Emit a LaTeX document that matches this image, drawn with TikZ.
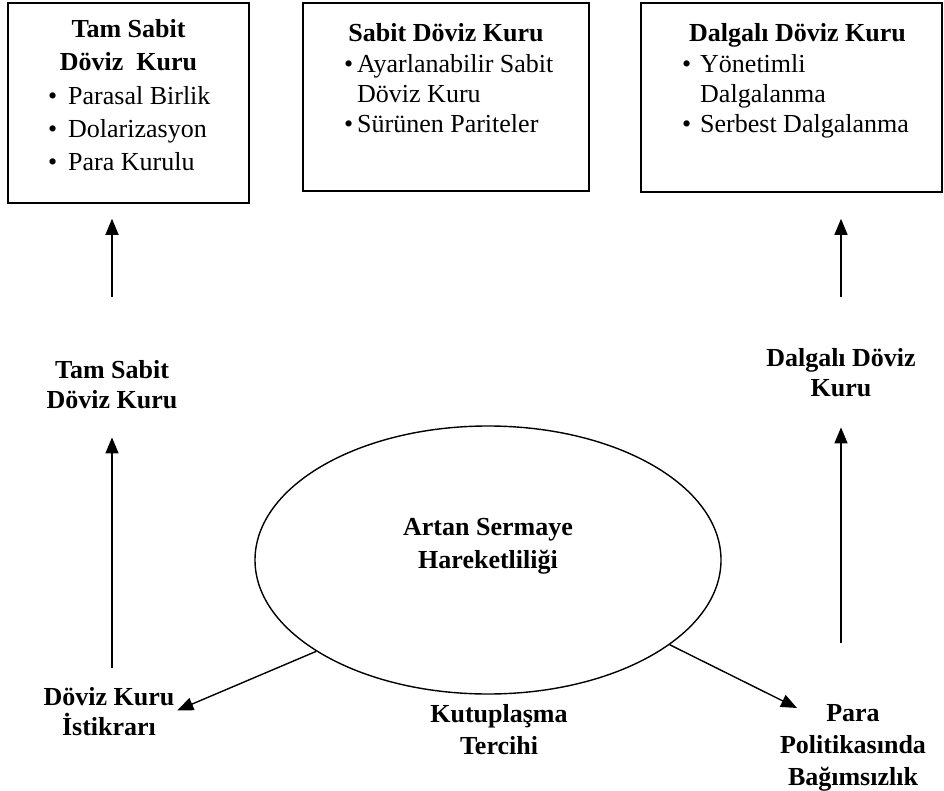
\documentclass[tikz,border=0pt]{standalone}
\usepackage{fontspec}
\setmainfont{Liberation Serif}
\usetikzlibrary{shapes.geometric,arrows.meta}

\newcommand{\madde}[1]{\makebox[#1][l]{\textbullet}}

\tikzset{
  kutu/.style={draw, line width=1.6pt, inner sep=0pt},
  baslik/.style={font=\fontsize{26}{#1}\selectfont\bfseries, align=center, inner sep=0pt, anchor=north},
  liste/.style={font=\fontsize{26}{#1}\selectfont, align=left, inner sep=0pt, anchor=north west},
  etiket/.style={font=\fontsize{26}{#1}\selectfont\bfseries, align=center, inner sep=0pt},
  ok/.style={line width=1.4pt, -{Triangle[length=16pt,width=13pt]}},
}

\begin{document}
\begin{tikzpicture}[x=1pt, y=-1pt]
  \useasboundingbox (0,0) rectangle (944,791);

  % kutular
  \node[kutu, minimum width=241pt, minimum height=200pt] (tamkutu) at (128.5,103) {};
  \node[baslik=33] (tambaslik) at (128.5,13.9) {\strut Tam Sabit\\Döviz\ \ Kuru};
  \node[liste=33] (tamliste) at (48,80.9) {\strut\madde{20pt}Parasal Birlik\\\madde{20pt}Dolarizasyon\\\madde{20pt}Para Kurulu};

  \node[kutu, minimum width=286pt, minimum height=188pt] (sabitkutu) at (446,97) {};
  \node[baslik=30] (sabitbaslik) at (446,20) {\strut Sabit Döviz Kuru};
  \node[liste=30] (sabitliste) at (344,51) {\strut\madde{13pt}Ayarlanabilir Sabit\\\hspace*{13pt}Döviz Kuru\\\madde{13pt}Sürünen Pariteler};

  \node[kutu, minimum width=301pt, minimum height=189pt] (dalgkutu) at (791.5,97.5) {};
  \node[baslik=30] (dalgbaslik) at (797.5,20) {\strut Dalgalı Döviz Kuru};
  \node[liste=30] (dalgliste) at (682,51) {\strut\madde{18pt}Yönetimli\\\hspace*{18pt}Dalgalanma\\\madde{18pt}Serbest Dalgalanma};

  % etiketler
  \node[etiket=30] (tamlbl) at (112,385) {Tam Sabit\\Döviz Kuru};
  \node[etiket=30] (dalglbl) at (841,373) {Dalgalı Döviz\\Kuru};
  \node[draw, ellipse, line width=1.4pt, minimum width=466pt, minimum height=268pt, inner sep=0pt] (artan) at (488,560) {};
  \node[etiket=33] (artantxt) at (488,546) {Artan Sermaye\\Hareketliliği};
  \node[etiket=30] (istikrar) at (109,711.5) {Döviz Kuru\\İstikrarı};
  \node[etiket=32] (kutup) at (499,730) {Kutuplaşma\\Tercihi};
  \node[etiket=32] (parapol) at (853,747.7) {Para\\Politikasında\\Bağımsızlık};
  \coordinate (paraok) at (797,708);

  % oklar
  \draw[ok, shorten <=64pt, shorten >=15pt] (tamlbl.north) -- (tamlbl.north |- tamkutu.south);
  \draw[ok, shorten <=52pt, shorten >=26pt] (dalglbl.north) -- (dalglbl.north |- dalgkutu.south);
  \draw[ok, shorten <=19pt, shorten >=28pt] (tamlbl.south |- istikrar.north) -- (tamlbl.south);
  \draw[ok, shorten <=61pt, shorten >=30pt] (dalglbl.south |- parapol.north) -- (dalglbl.south);
  \draw[ok, shorten >=3pt] (artan.208.7) -- (istikrar.east);
  \draw[ok] (artan.335.7) -- (paraok);
\end{tikzpicture}
\end{document}
